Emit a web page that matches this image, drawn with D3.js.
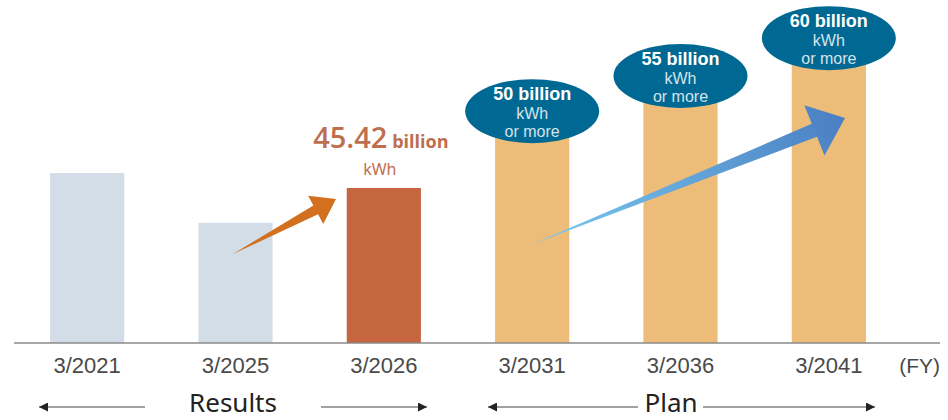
<html>
<script src="https://cdn.jsdelivr.net/npm/d3@7"></script>
<style>
body { margin: 0; background: #fff; }
.tick text { font: 22px "Liberation Sans", Arial, sans-serif; fill: #4a4a4a; }
</style>
<body>
</body>
<script>

// fiscal years and bar heights (billion kWh)
var years = ["3/2021", "3/2025", "3/2026", "3/2031", "3/2036", "3/2041"];
var values = [49.8, 35.2, 45.42, 60.9, 71.2, 82.3];
var kinds = ["result", "result", "latest", "plan", "plan", "plan"];
var planTargets = ["50", "55", "60"];

var W = 948, H = 420;
var baseline = 343;

var colors = { result: "#d3dde7", latest: "#c66641", plan: "#edbc78" };

var svg = d3.select("body").append("svg")
	.attr("width", W)
	.attr("height", H);

var defs = svg.append("defs");
var grad = defs.append("linearGradient")
	.attr("id", "blueGrad")
	.attr("gradientUnits", "userSpaceOnUse")
	.attr("x1", 530).attr("y1", 245).attr("x2", 844).attr("y2", 119);
grad.append("stop").attr("offset", "0%").attr("stop-color", "#7ccbef");
grad.append("stop").attr("offset", "100%").attr("stop-color", "#4a7fc3");

var x = d3.scaleBand()
	.domain(years)
	.range([13, 903])
	.paddingInner(0.5)
	.paddingOuter(0.25);

var y = d3.scaleLinear()
	.domain([0, 45.42])
	.range([baseline, 188]);

// bars
svg.selectAll("rect.bar")
	.data(years)
	.enter().append("rect")
	.attr("class", "bar")
	.attr("x", function(d) { return x(d); })
	.attr("y", function(d, i) { return y(values[i]); })
	.attr("width", x.bandwidth())
	.attr("height", function(d, i) { return baseline - y(values[i]); })
	.style("fill", function(d, i) { return colors[kinds[i]]; });

// baseline + axis labels
svg.append("line")
	.attr("x1", 14).attr("x2", 940)
	.attr("y1", baseline).attr("y2", baseline)
	.style("stroke", "#8a8a8a")
	.style("stroke-width", 1.5);

var axis = svg.append("g")
	.attr("transform", "translate(0," + baseline + ")")
	.call(d3.axisBottom(x).tickSize(0).tickPadding(14));
axis.select(".domain").remove();

svg.append("text")
	.attr("x", 940).attr("y", 373)
	.attr("text-anchor", "end")
	.style("font", '21px "Liberation Sans", Arial, sans-serif')
	.style("fill", "#4a4a4a")
	.text("(FY)");

// tapered arrow polygon
function arrowPath(x0, y0, x1, y1, headLen, headHalf, neckHalf) {
	var dx = x1 - x0, dy = y1 - y0;
	var len = Math.sqrt(dx * dx + dy * dy);
	var ux = dx / len, uy = dy / len;
	var px = -uy, py = ux;
	var nx = x1 - ux * headLen, ny = y1 - uy * headLen;
	var pts = [
		[x0, y0],
		[nx + px * neckHalf, ny + py * neckHalf],
		[nx + px * headHalf, ny + py * headHalf],
		[x1, y1],
		[nx - px * headHalf, ny - py * headHalf],
		[nx - px * neckHalf, ny - py * neckHalf]
	];
	return "M" + pts.map(function(p) { return p[0] + "," + p[1]; }).join("L") + "Z";
}

svg.append("path")
	.attr("d", arrowPath(233, 254, 336, 199, 23, 16, 5))
	.style("fill", "#d2701f");

svg.append("path")
	.attr("d", arrowPath(530, 245, 845, 118, 33, 27, 7))
	.style("fill", "url(#blueGrad)");

// latest result label
var c3 = x("3/2026") + x.bandwidth() / 2;
var lab = svg.append("text")
	.attr("x", c3 - 3).attr("y", 148)
	.attr("text-anchor", "middle")
	.style("fill", "#bf6e4e")
	.style("font-family", '"Open Sans", "Noto Sans", sans-serif');
lab.append("tspan").style("font-size", "29px").style("font-weight", "600").text("45.42");
lab.append("tspan").style("font-size", "18px").style("font-weight", "bold").text(" billion");

svg.append("text")
	.attr("x", c3 - 4).attr("y", 175)
	.attr("text-anchor", "middle")
	.style("fill", "#bf6e4e")
	.style("font", '16px "Noto Sans", sans-serif')
	.text("kWh");

// plan targets in ellipses
planTargets.forEach(function(t, k) {
	var i = k + 3;
	var cx = x(years[i]) + x.bandwidth() / 2;
	var cy = y(values[i]) - 24;
	var g = svg.append("g");
	g.append("ellipse")
		.attr("cx", cx).attr("cy", cy)
		.attr("rx", 67).attr("ry", 32)
		.style("fill", "#006993");
	g.append("text")
		.attr("x", cx).attr("y", cy - 11)
		.attr("text-anchor", "middle")
		.style("font", 'bold 18px "Liberation Sans", Arial, sans-serif')
		.style("fill", "#ffffff")
		.text(t + " billion");
	g.append("text")
		.attr("x", cx).attr("y", cy + 8)
		.attr("text-anchor", "middle")
		.style("font", '16px "Liberation Sans", Arial, sans-serif')
		.style("fill", "#d6e3ec")
		.text("kWh");
	g.append("text")
		.attr("x", cx).attr("y", cy + 26)
		.attr("text-anchor", "middle")
		.style("font", '16px "Liberation Sans", Arial, sans-serif')
		.style("fill", "#d6e3ec")
		.text("or more");
});

// period annotations
defs.append("marker")
	.attr("id", "tri")
	.attr("viewBox", "0 0 10 10")
	.attr("refX", 10).attr("refY", 5)
	.attr("markerWidth", 9).attr("markerHeight", 9)
	.attr("markerUnits", "userSpaceOnUse")
	.attr("orient", "auto-start-reverse")
	.append("path")
	.attr("d", "M0,0L10,5L0,10Z")
	.style("fill", "#222");

var spans = [
	{ label: "Results", cx: 233, a: [39, 145], b: [321, 427] },
	{ label: "Plan", cx: 671, a: [488, 638], b: [703, 875] }
];
var ay = 407;
spans.forEach(function(s) {
	svg.append("line")
		.attr("x1", s.a[0]).attr("x2", s.a[1])
		.attr("y1", ay).attr("y2", ay)
		.attr("marker-start", "url(#tri)")
		.style("stroke", "#444").style("stroke-width", 1);
	svg.append("line")
		.attr("x1", s.b[0]).attr("x2", s.b[1])
		.attr("y1", ay).attr("y2", ay)
		.attr("marker-end", "url(#tri)")
		.style("stroke", "#444").style("stroke-width", 1);
	svg.append("text")
		.attr("x", s.cx).attr("y", 412)
		.attr("text-anchor", "middle")
		.style("font", '26px "Noto Sans", sans-serif')
		.style("fill", "#222")
		.text(s.label);
});

</script>
</html>
